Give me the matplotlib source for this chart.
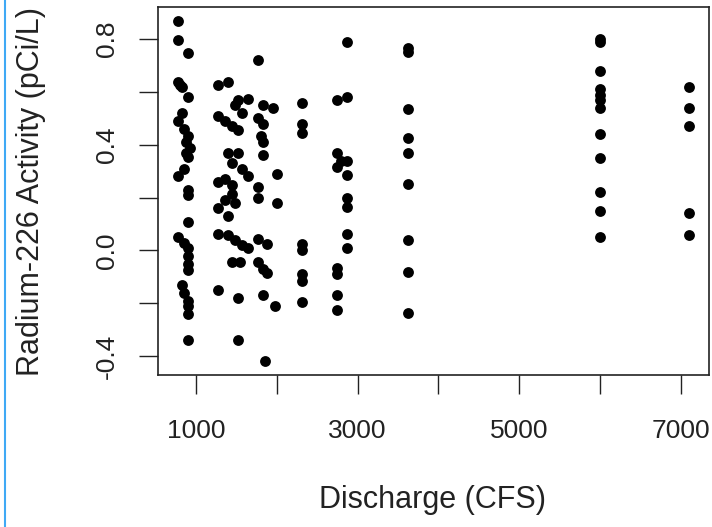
import numpy as np
import matplotlib.pyplot as plt
from matplotlib.lines import Line2D

plt.rcParams['font.family'] = ['Liberation Sans', 'DejaVu Sans']

# discharge (CFS) and Ra-226 activity (pCi/L)
discharge = [
    782, 782, 900, 782, 830, 800, 900, 830, 782, 850, 900, 880, 920, 880, 900,
    850, 782, 900, 900, 900, 782, 850, 900, 900, 900, 900, 830, 850, 900, 900,
    900, 900,
    1273, 1400, 1520, 1644, 1483, 1570, 1273, 1360, 1446, 1520,
    1830, 1950, 1768, 1830, 1800, 1830, 1830, 1768, 2000,
    1400, 1520, 1446, 1570, 1644, 1273, 1360, 1446, 1768,
    1446, 1360, 1483, 1273, 1400, 1768, 2000,
    1273, 1400, 1483, 1570, 1644, 1768, 1880,
    1450, 1540, 1768, 1830, 1880, 1273, 1520, 1830, 1980, 1520, 1855,
    2313, 2313, 2313, 2313, 2313, 2313, 2313, 2313,
    2747, 2871, 2871, 2747, 2790, 2871, 2747, 2871, 2871, 2871, 2871, 2871,
    2747, 2747, 2747, 2747,
    3627, 3627, 3627, 3627, 3627, 3627, 3627, 3627, 3627,
    6000, 6000, 6000, 6000, 6000, 6000, 6000, 6000, 6000, 6000, 6000, 6000,
    7100, 7100, 7100, 7100, 7100,
]
radium = [
    0.87, 0.795, 0.746, 0.636, 0.617, 0.625, 0.58, 0.52, 0.49, 0.46, 0.435, 0.41, 0.386, 0.37, 0.355,
    0.31, 0.28, 0.23, 0.21, 0.106, 0.05, 0.03, 0.01, -0.02, -0.05, -0.075, -0.13, -0.16, -0.19, -0.21,
    -0.24, -0.34,
    0.625, 0.636, 0.57, 0.575, 0.55, 0.52, 0.51, 0.49, 0.47, 0.455,
    0.55, 0.54, 0.50, 0.48, 0.435, 0.41, 0.36, 0.72, 0.29,
    0.37, 0.37, 0.33, 0.31, 0.28, 0.26, 0.27, 0.246, 0.24,
    0.215, 0.19, 0.18, 0.16, 0.13, 0.20, 0.18,
    0.064, 0.057, 0.038, 0.02, 0.008, 0.045, 0.026,
    -0.045, -0.045, -0.045, -0.07, -0.087, -0.15, -0.18, -0.17, -0.21, -0.34, -0.42,
    0.56, 0.48, 0.445, 0.025, 0.0, -0.09, -0.115, -0.197,
    0.57, 0.58, 0.79, 0.37, 0.34, 0.34, 0.315, 0.285, 0.20, 0.165, 0.064, 0.01,
    -0.065, -0.09, -0.17, -0.227,
    0.765, 0.75, 0.535, 0.425, 0.37, 0.25, 0.04, -0.08, -0.235,
    0.80, 0.79, 0.68, 0.61, 0.59, 0.57, 0.54, 0.44, 0.35, 0.22, 0.15, 0.05,
    0.62, 0.54, 0.47, 0.14, 0.06,
]
x_ticks = [1000, 2000, 3000, 4000, 5000, 6000, 7000]
x_ticklabels = ['1000', '', '3000', '', '5000', '', '7000']
y_ticks = [-0.4, -0.2, 0.0, 0.2, 0.4, 0.6, 0.8]
y_ticklabels = ['-0.4', '', '0.0', '', '0.4', '', '0.8']

fig = plt.figure(figsize=(7.12, 5.27), dpi=100)
ax = fig.add_axes([158 / 712, 1 - 375 / 527, 551 / 712, 368 / 527])

ax.plot(discharge, radium, 'o', color='black', markersize=7.8, markeredgewidth=0)

# R style 4% padding around the data range
xr = max(discharge) - min(discharge)
yr = max(radium) - min(radium)
ax.set_xlim(min(discharge) - 0.04 * xr, max(discharge) + 0.04 * xr)
ax.set_ylim(min(radium) - 0.04 * yr, max(radium) + 0.04 * yr)

ax.set_xticks(x_ticks)
ax.set_xticklabels(x_ticklabels)
ax.set_yticks(y_ticks)
ax.set_yticklabels(y_ticklabels, rotation=90, va='center')

ax.tick_params(axis='both', length=14, width=1.0, color='#222222',
               labelsize=19, labelcolor='#222222')
ax.tick_params(axis='x', pad=18)
ax.tick_params(axis='y', pad=14)
for s in ax.spines.values():
    s.set_linewidth(1.2)
    s.set_color('#222222')

fig.text(433 / 712, 1 - 500 / 527, 'Discharge (CFS)', ha='center', va='center',
         fontsize=22, color='#222222')
fig.text(31 / 712, 1 - 191 / 527, 'Radium-226 Activity (pCi/L)', ha='center', va='center',
         rotation=90, fontsize=22, color='#222222')

# thin blue frame line on the left edge of the screenshot
fig.add_artist(Line2D([5 / 712, 5 / 712], [0, 1], transform=fig.transFigure,
                      color='#3fa9f5', linewidth=1.5))

fig.savefig('out.png', dpi=100)
